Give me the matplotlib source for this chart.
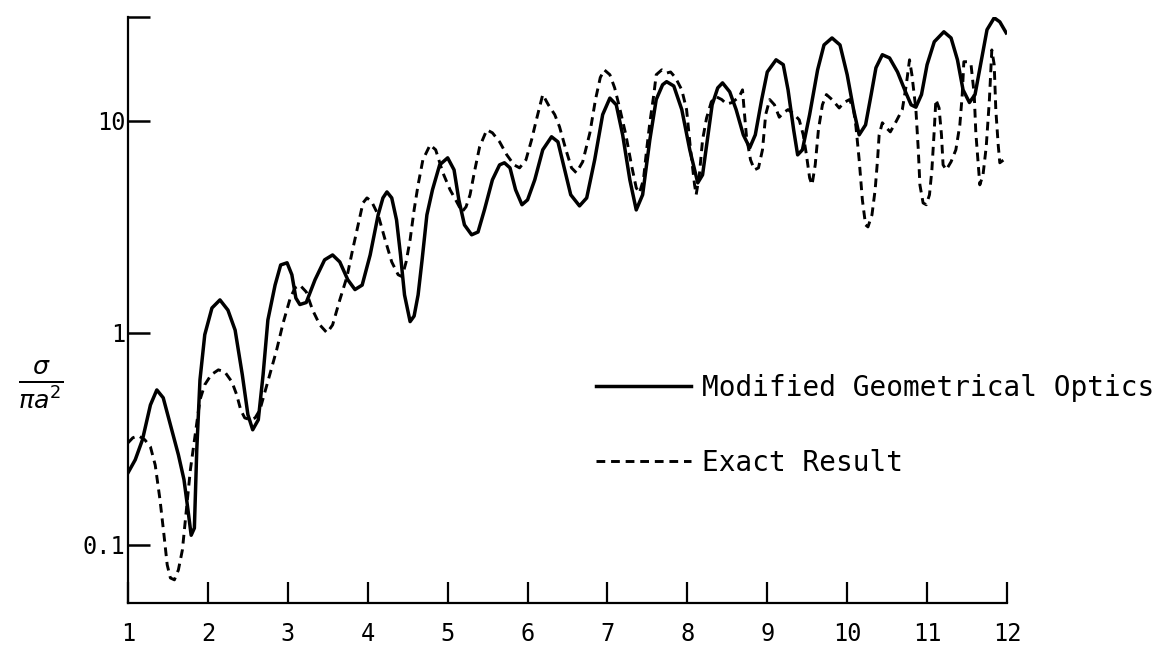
import matplotlib
matplotlib.use("Agg")
import matplotlib.pyplot as plt

# size parameter (x) and sigma / (pi a^2)
mgo_x = [1.00, 1.09, 1.18, 1.28, 1.36, 1.44, 1.53, 1.63, 1.70, 1.75, 1.79, 1.83, 1.86, 1.90, 1.96,
         2.05, 2.15, 2.25, 2.34, 2.43, 2.50, 2.56, 2.63, 2.69, 2.75, 2.84, 2.91, 2.99, 3.05, 3.10,
         3.15, 3.23, 3.34, 3.46, 3.56, 3.65, 3.75, 3.84, 3.93, 4.03, 4.13, 4.19, 4.24, 4.30, 4.36,
         4.41, 4.46, 4.53, 4.58, 4.63, 4.68, 4.74, 4.81, 4.90, 5.00, 5.08, 5.14, 5.21, 5.30, 5.38,
         5.46, 5.56, 5.65, 5.71, 5.78, 5.85, 5.93, 6.00, 6.09, 6.19, 6.30, 6.38, 6.45, 6.54, 6.65,
         6.74, 6.84, 6.94, 7.03, 7.11, 7.19, 7.28, 7.36, 7.44, 7.53, 7.61, 7.69, 7.74, 7.83, 7.93,
         8.03, 8.13, 8.19, 8.25, 8.31, 8.38, 8.44, 8.53, 8.61, 8.70, 8.78, 8.85, 8.93, 9.00, 9.11,
         9.20, 9.26, 9.33, 9.38, 9.44, 9.53, 9.63, 9.71, 9.81, 9.91, 10.00, 10.08, 10.15, 10.23,
         10.30, 10.36, 10.44, 10.53, 10.63, 10.73, 10.80, 10.86, 10.93, 11.00, 11.09, 11.21, 11.30,
         11.38, 11.45, 11.53, 11.60, 11.68, 11.75, 11.84, 11.91, 11.99]
mgo_y = [0.219, 0.252, 0.313, 0.457, 0.538, 0.494, 0.368, 0.266, 0.203, 0.146, 0.111, 0.120, 0.281,
         0.600, 0.98, 1.31, 1.43, 1.28, 1.03, 0.634, 0.411, 0.349, 0.389, 0.634, 1.15, 1.68, 2.09,
         2.14, 1.88, 1.46, 1.36, 1.39, 1.78, 2.21, 2.33, 2.16, 1.78, 1.60, 1.68, 2.33, 3.60, 4.33,
         4.62, 4.33, 3.41, 2.33, 1.51, 1.13, 1.20, 1.51, 2.21, 3.60, 4.73, 6.20, 6.69, 5.87, 4.24,
         3.23, 2.90, 2.99, 3.80, 5.27, 6.20, 6.34, 6.00, 4.73, 4.02, 4.24, 5.27, 7.30, 8.41, 7.96,
         6.20, 4.48, 3.97, 4.33, 6.55, 10.7, 12.8, 11.9, 8.59, 5.27, 3.80, 4.48, 8.13, 12.6, 14.8,
         15.3, 14.6, 11.3, 7.30, 5.10, 5.56, 8.13, 11.9, 14.3, 15.1, 13.7, 11.3, 8.59, 7.46, 8.59,
         12.6, 17.0, 19.4, 18.4, 14.0, 9.07, 6.91, 7.30, 10.7, 17.4, 22.8, 24.6, 22.8, 16.5, 11.3,
         8.59, 9.57, 13.3, 17.8, 20.5, 19.8, 17.0, 13.7, 11.9, 11.6, 13.3, 18.4, 23.6, 26.3, 24.6,
         19.4, 14.0, 12.2, 13.3, 19.4, 26.9, 30.6, 29.3, 26.0]

exact_x = [1.00, 1.06, 1.13, 1.21, 1.28, 1.34, 1.40, 1.45, 1.49, 1.53, 1.58, 1.63, 1.68, 1.73, 1.78,
           1.84, 1.90, 1.96, 2.04, 2.13, 2.21, 2.30, 2.36, 2.41, 2.46, 2.53, 2.59, 2.65, 2.71, 2.78,
           2.86, 2.94, 3.03, 3.09, 3.15, 3.23, 3.31, 3.40, 3.49, 3.56, 3.65, 3.74, 3.81, 3.88, 3.94,
           3.99, 4.05, 4.13, 4.21, 4.30, 4.38, 4.43, 4.48, 4.53, 4.58, 4.63, 4.69, 4.78, 4.85, 4.94,
           5.03, 5.10, 5.18, 5.23, 5.28, 5.34, 5.40, 5.49, 5.56, 5.65, 5.74, 5.83, 5.90, 5.98, 6.05,
           6.11, 6.19, 6.26, 6.34, 6.40, 6.48, 6.55, 6.61, 6.69, 6.78, 6.85, 6.91, 6.96, 7.03, 7.09,
           7.15, 7.23, 7.30, 7.36, 7.40, 7.45, 7.49, 7.53, 7.58, 7.61, 7.68, 7.74, 7.79, 7.85, 7.93,
           7.99, 8.04, 8.09, 8.11, 8.15, 8.19, 8.24, 8.30, 8.36, 8.43, 8.49, 8.56, 8.65, 8.69, 8.71,
           8.74, 8.79, 8.84, 8.89, 8.94, 8.98, 9.03, 9.09, 9.15, 9.20, 9.26, 9.34, 9.40, 9.45, 9.49,
           9.53, 9.56, 9.60, 9.64, 9.69, 9.74, 9.81, 9.90, 9.96, 10.03, 10.08, 10.11, 10.15, 10.19,
           10.23, 10.26, 10.31, 10.35, 10.38, 10.40, 10.44, 10.49, 10.54, 10.61, 10.69, 10.74, 10.78,
           10.81, 10.86, 10.89, 10.91, 10.95, 10.99, 11.03, 11.06, 11.09, 11.11, 11.15, 11.18, 11.20,
           11.24, 11.30, 11.36, 11.41, 11.44, 11.46, 11.51, 11.55, 11.59, 11.61, 11.64, 11.66, 11.70,
           11.74, 11.78, 11.81, 11.84, 11.86, 11.89, 11.91, 11.96]
exact_y = [0.303, 0.320, 0.327, 0.313, 0.290, 0.238, 0.163, 0.111, 0.0805, 0.0698, 0.0684, 0.0762,
           0.0946, 0.146, 0.226, 0.330, 0.483, 0.569, 0.634, 0.669, 0.655, 0.587, 0.510, 0.433,
           0.397, 0.389, 0.397, 0.433, 0.521, 0.648, 0.832, 1.11, 1.46, 1.63, 1.68, 1.56, 1.28, 1.09,
           1.00, 1.09, 1.43, 1.84, 2.46, 3.23, 4.10, 4.33, 4.15, 3.60, 2.81, 2.16, 1.88, 1.84, 2.16,
           2.75, 3.80, 4.99, 6.55, 7.70, 7.30, 5.69, 4.73, 4.24, 3.72, 3.93, 4.48, 5.87, 7.54, 9.07,
           8.78, 7.96, 6.91, 6.20, 6.00, 6.55, 8.13, 10.1, 13.3, 11.9, 10.7, 9.37, 7.30, 6.00, 5.69,
           6.41, 8.78, 12.6, 16.0, 17.4, 16.5, 14.3, 11.6, 8.59, 6.20, 4.83, 4.57, 5.27, 7.30, 9.79,
           13.3, 16.5, 17.4, 16.8, 17.0, 16.0, 14.0, 11.3, 7.30, 4.99, 4.48, 5.56, 8.13, 10.3, 12.3,
           13.0, 12.6, 12.0, 12.2, 13.0, 14.0, 11.3, 8.41, 6.55, 5.87, 6.00, 7.30, 10.7, 12.6, 11.9,
           10.4, 10.9, 11.3, 10.7, 10.1, 8.59, 6.91, 5.38, 4.99, 6.20, 9.07, 11.9, 13.3, 12.6, 11.5,
           12.2, 12.6, 11.3, 9.37, 6.55, 4.24, 3.23, 3.16, 3.60, 4.73, 6.55, 8.59, 9.79, 9.27, 8.87,
           9.89, 11.3, 14.8, 19.4, 16.5, 11.3, 7.30, 4.99, 4.10, 4.02, 4.48, 5.87, 9.07, 12.6, 11.5,
           8.59, 6.20, 5.87, 6.41, 7.30, 9.57, 13.3, 19.0, 19.0, 18.4, 13.3, 8.78, 6.20, 4.99, 5.56,
           7.54, 12.6, 21.6, 18.4, 11.3, 7.70, 6.34, 6.55]

x_ticks = [1, 2, 3, 4, 5, 6, 7, 8, 9, 10, 11, 12]
y_ticks = [0.1, 1, 10, 30.9]
y_tick_labels = ["0.1", "1", "10", ""]

mono = "DejaVu Sans Mono"

fig = plt.figure(figsize=(11.62, 6.52), dpi=100)
ax = fig.add_axes([0.1102, 0.0752, 0.7564, 0.8988])

ax.plot(mgo_x, mgo_y, color="black", lw=2.5, solid_joinstyle="round",
        label="Modified Geometrical Optics")
ax.plot(exact_x, exact_y, color="black", lw=2.1, linestyle=(0, (3, 2)),
        label="Exact Result")

ax.set_yscale("log")
ax.set_xlim(1, 12)
ax.set_ylim(0.0532, 30.9)

for side in ("top", "right"):
    ax.spines[side].set_visible(False)
for side in ("left", "bottom"):
    ax.spines[side].set_linewidth(1.6)

ax.set_xticks(x_ticks)
ax.set_xticklabels([str(t) for t in x_ticks], fontfamily=mono, fontsize=17)
ax.set_yticks(y_ticks)
ax.set_yticklabels(y_tick_labels, fontfamily=mono, fontsize=17)
ax.yaxis.set_minor_locator(matplotlib.ticker.NullLocator())
ax.tick_params(axis="x", direction="in", length=15, width=1.6, pad=14)
ax.tick_params(axis="y", direction="in", length=16, width=1.8, pad=2)

ax.legend(loc="upper left", bbox_to_anchor=(0.52, 0.41), frameon=False,
          prop={"family": mono, "size": 20}, handlelength=3.4, handletextpad=0.4,
          labelspacing=1.7, borderaxespad=0)

fig.text(0.035, 1 - 384 / 652, r"$\frac{\sigma}{\pi a^2}$", fontsize=26,
         ha="center", va="center")

fig.savefig("out.png", dpi=100)
